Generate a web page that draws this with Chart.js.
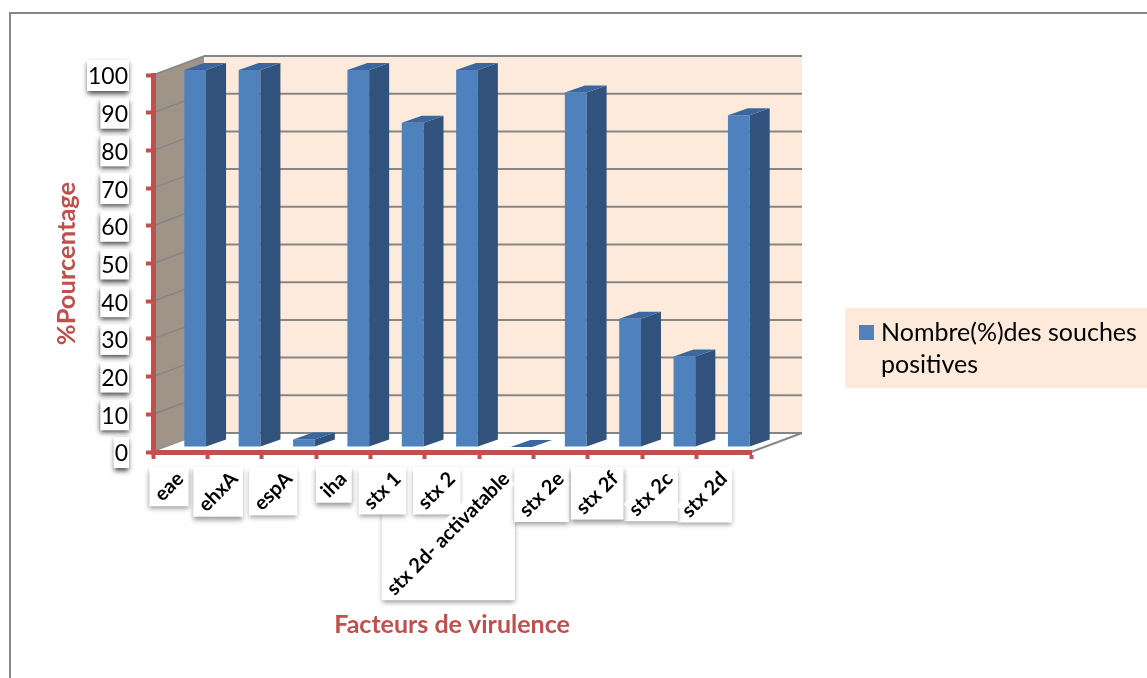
<!DOCTYPE html>
<html lang="fr">
<head>
<meta charset="utf-8">
<title>Facteurs de virulence</title>
<script src="https://cdn.jsdelivr.net/npm/chart.js@4/dist/chart.umd.min.js"></script>
<style>
  html, body { margin: 0; background: #fff; overflow: hidden; }
  #frame { position: absolute; left: 9px; top: 12px; width: 1300px; height: 900px; border: 2px solid #868686; }
  canvas { position: absolute; left: 0; top: 0; }
</style>
</head>
<body>
<div id="frame"></div>
<canvas id="chart" width="1147" height="678"></canvas>
<script>
const categories = ['eae', 'ehxA', 'espA', 'iha', 'stx 1', 'stx 2', 'stx 2d- activatable', 'stx 2e', 'stx 2f', 'stx 2c', 'stx 2d'];
const percentages = [100, 100, 2, 100, 86, 100, 0, 94, 34, 24, 88];
const yTickValues = [0, 10, 20, 30, 40, 50, 60, 70, 80, 90, 100];
const legendLines = ['Nombre(%)des souches', 'positives'];

const RED = '#c0504d';
const GRID = '#868686';
const PEACH = '#fdeada';

// fake 3D: offset of the back wall and of the bars from the axis plane
const WALL_DX = 51, WALL_DY = -19;
const BAR_DX = 15, BAR_DY = -5;
const SIDE_DX = 20, SIDE_DY = -7;

function poly(ctx, pts, fill) {
  ctx.beginPath();
  pts.forEach((p, i) => (i ? ctx.lineTo(p[0], p[1]) : ctx.moveTo(p[0], p[1])));
  ctx.closePath();
  ctx.fillStyle = fill;
  ctx.fill();
}

function segment(ctx, x1, y1, x2, y2, color, width) {
  ctx.beginPath();
  ctx.moveTo(x1, y1);
  ctx.lineTo(x2, y2);
  ctx.strokeStyle = color;
  ctx.lineWidth = width;
  ctx.stroke();
}

function shadowBox(ctx, x, y, w, h, alpha) {
  ctx.save();
  ctx.shadowColor = 'rgba(0,0,0,' + alpha + ')';
  ctx.shadowBlur = 5;
  ctx.shadowOffsetY = 3;
  ctx.fillStyle = '#fff';
  ctx.fillRect(x, y, w, h);
  ctx.restore();
}

// white shadowed plates behind the tick labels, the library writes the text on top
function drawLabelPlates(chart) {
  const ctx = chart.ctx;
  const { x, y } = chart.scales;

  ctx.save();
  const fy = y.options.ticks.font;
  ctx.font = fy.weight + ' ' + fy.size + 'px ' + fy.family;
  y.getLabelItems().forEach((item) => {
    const w = ctx.measureText(item.label).width;
    const [tx, ty] = item.options.translation;
    // Lato digits sit high on a middle baseline, drop them a little
    item.options.translation[1] = ty + 2;
    shadowBox(ctx, tx - w - 1, ty - 15, w + 2, 31, 0.7);
  });

  const fx = x.options.ticks.font;
  ctx.font = fx.weight + ' ' + fx.size + 'px ' + fx.family;
  const bandH = fx.size * 1.2;
  const s = Math.SQRT1_2;
  const items = x.getLabelItems().map((item) => ({
    w: ctx.measureText(item.label).width,
    tx: item.options.translation[0],
    ty: item.options.translation[1],
  }));
  // longest label first so the short boxes stay visible over it
  items.slice().sort((a, b) => b.w - a.w).forEach(({ w, tx, ty }) => {
    const side = (w + bandH) * s;
    shadowBox(ctx, tx + bandH * s - side, ty, side, side, 0.4);
  });
  items.forEach(({ w, tx, ty }) => {
    ctx.save();
    ctx.translate(tx, ty);
    ctx.rotate(-Math.PI / 4);
    ctx.fillStyle = '#fff';
    ctx.fillRect(-w, 0, w, bandH);
    ctx.restore();
  });
  ctx.restore();
}

// back wall, side wall, floor edge and grid lines
function drawWalls(chart) {
  const ctx = chart.ctx;
  const { left, right, top, bottom } = chart.chartArea;
  const yScale = chart.scales.y;

  ctx.save();
  poly(ctx, [[left + WALL_DX, top + WALL_DY], [right + WALL_DX, top + WALL_DY], [right + WALL_DX, bottom + WALL_DY], [left + WALL_DX, bottom + WALL_DY]], PEACH);
  poly(ctx, [[left, top], [left + WALL_DX, top + WALL_DY], [left + WALL_DX, bottom + WALL_DY], [left, bottom]], '#a09488');

  yTickValues.forEach((v) => {
    const py = yScale.getPixelForValue(v);
    segment(ctx, left, py, left + WALL_DX, py + WALL_DY, GRID, 1.5);
    segment(ctx, left + WALL_DX, py + WALL_DY, right + WALL_DX, py + WALL_DY, GRID, 2);
  });

  // floor sits in front of the side wall's foot
  poly(ctx, [[left, bottom], [left + WALL_DX, bottom + WALL_DY], [right + WALL_DX, bottom + WALL_DY], [right, bottom]], '#fff');
  segment(ctx, left + WALL_DX, bottom + WALL_DY, right + WALL_DX, bottom + WALL_DY, GRID, 2);
  segment(ctx, right, bottom, right + WALL_DX, bottom + WALL_DY, GRID, 2);
  ctx.restore();
}

const scene = {
  id: 'scene',
  beforeDraw(chart) {
    drawWalls(chart);
    drawLabelPlates(chart);
  },
  // bars are pushed back from the axis plane; the library still draws the front face
  beforeDatasetDraw(chart) {
    chart.ctx.save();
    chart.ctx.translate(BAR_DX, BAR_DY);
  },
  afterDatasetDraw(chart, args) {
    const ctx = chart.ctx;
    args.meta.data.forEach((bar) => {
      const x2 = bar.x + bar.width / 2;
      const x1 = bar.x - bar.width / 2;
      poly(ctx, [[x2, bar.y], [x2 + SIDE_DX, bar.y + SIDE_DY], [x2 + SIDE_DX, bar.base + SIDE_DY], [x2, bar.base]], '#31527c');
      poly(ctx, [[x1, bar.y], [x1 + SIDE_DX, bar.y + SIDE_DY], [x2 + SIDE_DX, bar.y + SIDE_DY], [x2, bar.y]], '#39679e');
    });
    ctx.restore();
  },
  // two line legend box on the right
  afterDraw(chart) {
    const ctx = chart.ctx;
    ctx.save();
    ctx.fillStyle = PEACH;
    ctx.fillRect(845, 308, 302, 80);
    ctx.fillStyle = chart.data.datasets[0].backgroundColor;
    ctx.fillRect(859, 325, 15, 15);
    ctx.fillStyle = '#000';
    ctx.font = '25px Lato';
    ctx.textBaseline = 'middle';
    legendLines.forEach((line, i) => ctx.fillText(line, 881, 333 + i * 32));
    ctx.restore();
  }
};

new Chart(document.getElementById('chart'), {
  type: 'bar',
  data: {
    labels: categories,
    datasets: [
      {
        label: legendLines.join(' '),
        data: percentages,
        backgroundColor: '#4f81bd',
        barPercentage: 0.4,
        categoryPercentage: 1,
        clip: false,
      },
    ],
  },
  options: {
    responsive: false,
    animation: false,
    layout: { padding: { left: 51, top: 75, right: 396, bottom: 38 } },
    plugins: {
      legend: { display: false },
      tooltip: { enabled: false },
    },
    scales: {
      x: {
        afterFit: (scale) => { scale.height = 188; },
        border: { color: RED, width: 5 },
        grid: { drawOnChartArea: false, color: RED, tickColor: RED, tickLength: 7, tickWidth: 4 },
        ticks: {
          autoSkip: false,
          minRotation: 45,
          maxRotation: 45,
          padding: 8,
          color: '#000',
          font: { family: 'Lato', size: 20, weight: 'bold' },
        },
        title: {
          display: true,
          text: 'Facteurs de virulence',
          color: RED,
          padding: 0,
          font: { family: 'Lato', size: 25, weight: 'bold' },
        },
      },
      y: {
        min: 0,
        max: 100,
        afterBuildTicks: (scale) => { scale.ticks = yTickValues.map((value) => ({ value })); },
        afterFit: (scale) => { scale.width = 102; },
        border: { color: RED, width: 5 },
        grid: { drawOnChartArea: false, color: RED, tickColor: RED, tickLength: 7, tickWidth: 4 },
        ticks: {
          padding: 18,
          color: '#000',
          font: { family: 'Lato', size: 23, weight: 'normal' },
        },
        title: {
          display: true,
          text: '%Pourcentage',
          color: RED,
          padding: 0,
          font: { family: 'Lato', size: 25.5, weight: 'bold' },
        },
      },
    },
  },
  plugins: [scene],
});
</script>
</body>
</html>
